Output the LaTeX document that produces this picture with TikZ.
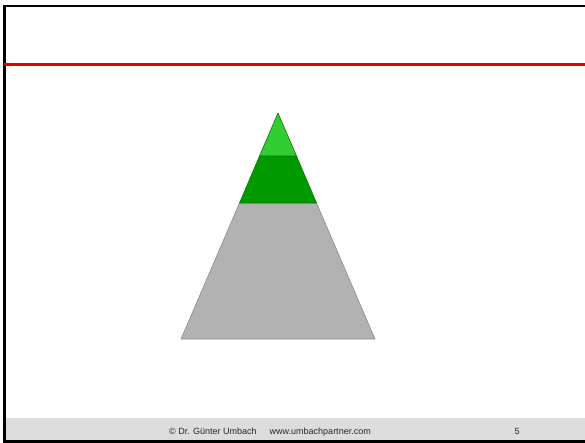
\documentclass[tikz,border=0pt]{standalone}
\usepackage{fontspec}
\setmainfont{Liberation Sans}
\definecolor{lightgreen}{HTML}{33CC33}
\definecolor{darkgreen}{HTML}{009900}
\definecolor{edgegreen}{HTML}{007A00}
\definecolor{pyrgray}{HTML}{B2B2B2}
\definecolor{edgegray}{HTML}{8C8C8C}
\definecolor{footgray}{HTML}{DDDDDD}
\tikzset{
  frameline/.style={line width=2.2pt, black},
  redline/.style={line width=3pt, red!90!black},
  foottext/.style={font=\fontsize{9}{11}\selectfont, text=black!85, inner sep=0pt, anchor=base},
  tiergreen/.style={draw=edgegreen, line width=0.6pt, line join=round},
  tiergray/.style={draw=edgegray, line width=0.6pt, line join=round}
}
\begin{document}
\begin{tikzpicture}[x=1pt,y=-1pt]
\useasboundingbox (0,0) rectangle (585,443);
\fill[white] (0,0) rectangle (585,443);
% footer band
\fill[footgray] (5,418) rectangle (585,441);
% frame
\draw[frameline] (590,6) -- (4.5,6) -- (4.5,441.5) -- (590,441.5);
% red line
\draw[redline] (3.5,64.5) -- (590,64.5);
% pyramid
\coordinate (apex) at (278,113);
\coordinate (l1) at (259.5,156);
\coordinate (r1) at (296.5,156);
\coordinate (l2) at (239.5,203);
\coordinate (r2) at (316.5,203);
\coordinate (l3) at (181,339);
\coordinate (r3) at (375,339);
\filldraw[fill=pyrgray, tiergray] (l2) -- (r2) -- (r3) -- (l3) -- cycle;
\filldraw[fill=darkgreen, tiergreen] (l1) -- (r1) -- (r2) -- (l2) -- cycle;
\filldraw[fill=lightgreen, tiergreen] (apex) -- (r1) -- (l1) -- cycle;
% footer text
\node[foottext] (copy) at (270,434) {© Dr. Günter Umbach\hspace{13pt}www.umbachpartner.com};
\node[foottext] (page) at (517,434) {5};
\end{tikzpicture}
\end{document}
